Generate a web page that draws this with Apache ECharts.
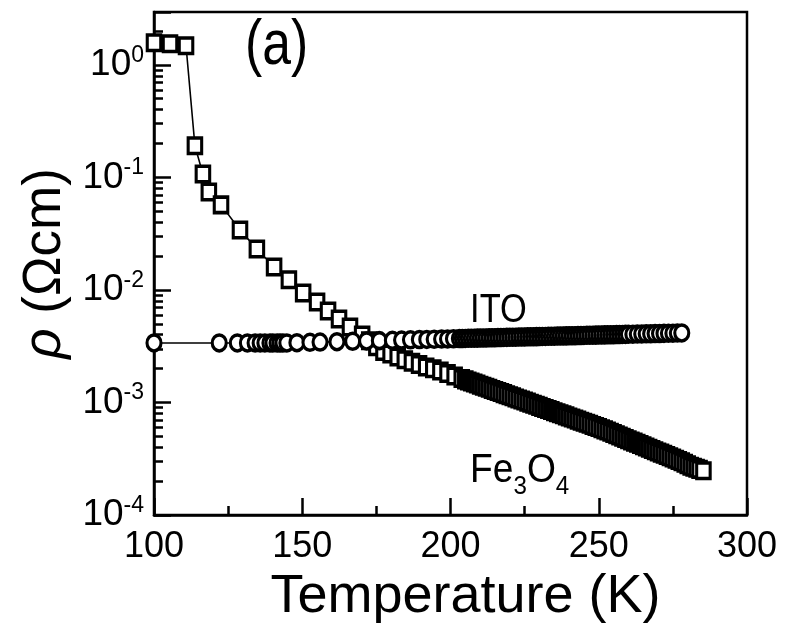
<!DOCTYPE html>
<html><head><meta charset="utf-8">
<script src="https://cdn.jsdelivr.net/npm/echarts@6/dist/echarts.min.js"></script>
<style>html,body{margin:0;padding:0;background:#fff}#c{width:785px;height:631px}</style>
</head><body><div id="c"></div>
<script>
// ---- data ----
const fe3o4T = [100.0,105.4,110.8,113.8,116.5,118.5,122.6,129.0,134.7,140.5,145.5,150.3,155.0,158.7,162.4,166.1,170.2,172.6,175.0,177.4,179.8,182.2,184.6,187.0,189.4,191.8,194.2,196.6,199.0,201.4,203.8,
205,206,207,208,209,210,211,212,213,214,215,216,217,218,219,220,221,222,223,224,225,226,227,228,229,230,231,232,233,234,235,236,237,238,239,240,241,242,243,244,245,246,247,248,249,250,
251,252,253,254,255,256,257,258,259,260,261,262,263,264,265,266,267,268,269,270,271,272,273,274,275,276,277,278,279,280,281,282,283,284,285.3];
const fe3o4Rho = [1.57,1.54,1.48,0.191,0.107,0.0743,0.0570,0.0341,0.0231,0.0160,0.0123,0.00940,0.00782,0.00650,0.00552,0.00469,0.00398,0.00354,0.00313,0.00284,0.00269,0.00253,0.00240,0.00228,0.00217,0.00207,0.00199,0.00190,0.00181,0.00172,0.00163,
1.588e-3,1.554e-3,1.521e-3,1.488e-3,1.456e-3,1.425e-3,1.394e-3,1.364e-3,1.335e-3,1.306e-3,1.278e-3,1.251e-3,1.224e-3,1.198e-3,1.172e-3,1.147e-3,1.122e-3,1.098e-3,1.075e-3,1.052e-3,1.029e-3,1.007e-3,9.855e-4,9.644e-4,9.437e-4,9.235e-4,9.037e-4,8.843e-4,8.654e-4,8.468e-4,8.287e-4,8.109e-4,7.935e-4,7.765e-4,7.599e-4,7.436e-4,7.277e-4,7.121e-4,6.968e-4,6.819e-4,6.673e-4,6.530e-4,6.390e-4,6.253e-4,6.119e-4,5.988e-4,
5.851e-4,5.707e-4,5.566e-4,5.428e-4,5.294e-4,5.163e-4,5.035e-4,4.911e-4,4.789e-4,4.671e-4,4.555e-4,4.443e-4,4.333e-4,4.226e-4,4.121e-4,4.019e-4,3.920e-4,3.823e-4,3.728e-4,3.636e-4,3.546e-4,3.459e-4,3.373e-4,3.290e-4,3.208e-4,3.129e-4,3.052e-4,2.967e-4,2.879e-4,2.793e-4,2.714e-4,2.656e-4,2.599e-4,2.543e-4,2.472e-4];

const itoT = [100,122,128.1,131.5,134.1,135.8,137.4,139.1,140.1,141.5,142.5,143.5,144.8,148.2,152.6,156.0,161.7,167.0,171.7,176.0,180.4,183.5,186.5,189.5,192.0,194.5,197.0,199.0,201.0,203.0,
204,205,206,207,208,209,210,211,212,213,214,215,216,217,218,219,220,221,222,223,224,225,226,227,228,229,230,231,232,233,234,235,236,237,238,239,240,241,242,243,244,245,246,247,248,249,250,251,252,253,254,255,256,257,258,259,260,
261.5,263,264.5,266,267.5,269,270.5,272,273.5,275,276.5,278];
const itoRho = [3.38e-3,3.38e-3,3.38e-3,3.38e-3,3.38e-3,3.38e-3,3.38e-3,3.38e-3,3.38e-3,3.38e-3,3.38e-3,3.38e-3,3.38e-3,
3.398e-3,3.421e-3,3.439e-3,3.469e-3,3.497e-3,3.521e-3,3.545e-3,3.569e-3,3.586e-3,3.602e-3,3.619e-3,3.633e-3,3.647e-3,3.661e-3,3.672e-3,3.683e-3,3.695e-3,
3.702e-3,3.708e-3,3.714e-3,3.719e-3,3.725e-3,3.731e-3,3.736e-3,3.742e-3,3.748e-3,3.754e-3,3.759e-3,3.765e-3,3.771e-3,3.777e-3,3.783e-3,3.788e-3,3.794e-3,3.800e-3,3.806e-3,3.812e-3,3.818e-3,3.823e-3,3.829e-3,3.835e-3,3.841e-3,3.847e-3,3.853e-3,3.859e-3,3.865e-3,3.871e-3,3.877e-3,3.883e-3,3.889e-3,3.895e-3,3.901e-3,3.907e-3,3.913e-3,3.919e-3,3.925e-3,3.931e-3,3.937e-3,3.943e-3,3.949e-3,3.955e-3,3.961e-3,3.967e-3,3.974e-3,3.980e-3,3.986e-3,3.992e-3,3.998e-3,4.004e-3,4.010e-3,4.017e-3,4.023e-3,4.029e-3,4.035e-3,
4.045e-3,4.054e-3,4.063e-3,4.073e-3,4.082e-3,4.092e-3,4.101e-3,4.111e-3,4.120e-3,4.130e-3,4.139e-3,4.149e-3];

// ticks
const xTickValues = [100,150,200,250,300];
const yMajorTicks = [1e-4,1e-3,1e-2,1e-1,1];
const yMinorTicks = [2e-4,3e-4,4e-4,5e-4,6e-4,7e-4,8e-4,9e-4,
  2e-3,3e-3,4e-3,5e-3,6e-3,7e-3,8e-3,9e-3,
  2e-2,3e-2,4e-2,5e-2,6e-2,7e-2,8e-2,9e-2,
  2e-1,3e-1,4e-1,5e-1,6e-1,7e-1,8e-1,9e-1, 2];
const X_MIN = 100, X_MAX = 300, Y_MIN = 1e-4, Y_MAX = 2.95;

// text anchors in data units [T, rho]
const panelLabelAt = [130.7, 1.445];
const itoLabelAt = [206.6, 6.5e-3];
const feLabelAt = [206.6, 2.46e-4];

const FONT = "'Liberation Sans', Arial, sans-serif";
const BLACK = '#000';
const chart = echarts.init(document.getElementById('c'));

function pairs(xs, ys){ return xs.map((x,i)=>[x, ys[i]]); }

const option = {
  animation: false,
  backgroundColor: '#fff',
  grid: { left:154, right:38, top:12, bottom:116, show:true, borderColor:BLACK, borderWidth:2.5,
          backgroundColor:'transparent', containLabel:false, outerBoundsMode:'none' },
  xAxis: {
    type:'value', min:X_MIN, max:X_MAX, interval:50,
    name:'Temperature (K)', nameLocation:'middle', nameGap:47,
    nameTextStyle:{ fontFamily:FONT, fontSize:54, color:BLACK, padding:[0,0,0,30] },
    axisLine:{ onZero:false, lineStyle:{ color:BLACK, width:2.5 } },
    axisTick:{ inside:true, length:17, lineStyle:{ color:BLACK, width:2.5 } },
    minorTick:{ show:true, splitNumber:2, length:9, lineStyle:{ color:BLACK, width:2.5 } },
    axisLabel:{ margin:14, fontFamily:FONT, fontSize:36, color:BLACK,
      formatter: v => xTickValues.indexOf(v) >= 0 ? String(v) : '' },
    splitLine:{ show:false }
  },
  yAxis: [{
    type:'log', logBase:10, min:Y_MIN, max:Y_MAX,
    name:'{i|ρ} (Ωcm)', nameLocation:'middle', nameGap:61, nameRotate:90,
    nameTextStyle:{ fontFamily:FONT, fontSize:53, color:BLACK,
      rich:{ i:{ fontFamily:FONT, fontSize:53, fontStyle:'italic', color:BLACK } } },
    axisLine:{ onZero:false, lineStyle:{ color:BLACK, width:2.5 } },
    axisTick:{ inside:true, length:17, lineStyle:{ color:BLACK, width:2.5 } },
    minorTick:{ show:false },
    splitLine:{ show:false },
    axisLabel:{ margin:10, color:BLACK,
      formatter: v => {
        const hit = yMajorTicks.find(t => Math.abs(Math.log10(v) - Math.log10(t)) < 1e-6);
        if (hit === undefined) return '';
        return '{b|10}{s|' + Math.round(Math.log10(hit)) + '}';
      },
      rich:{
        b:{ fontFamily:FONT, fontSize:37, lineHeight:42, color:BLACK },
        s:{ fontFamily:FONT, fontSize:23, lineHeight:23, verticalAlign:'top', color:BLACK }
      }
    }
  }, {
    type:'value', min:Math.log10(Y_MIN), max:Math.log10(Y_MAX), position:'left',
    axisLine:{ show:false, onZero:false }, axisLabel:{ show:false }, splitLine:{ show:false },
    axisTick:{ show:true, inside:true, length:9, customValues: yMinorTicks.map(v => Math.log10(v)),
      lineStyle:{ color:BLACK, width:2.5 } }
  }],
  series: [{
    name:'Fe3O4', type:'line', yAxisIndex:0, data:pairs(fe3o4T, fe3o4Rho),
    symbol:'rect', symbolSize:[13.5,15.5], showAllSymbol:true,
    itemStyle:{ color:'#fff', borderColor:BLACK, borderWidth:3.3 },
    lineStyle:{ color:BLACK, width:1.6 }, emphasis:{ disabled:true }, z:2
  }, {
    name:'ITO', type:'line', yAxisIndex:0, data:pairs(itoT, itoRho),
    symbol:'circle', symbolSize:[14,16], showAllSymbol:true,
    itemStyle:{ color:'#fff', borderColor:BLACK, borderWidth:3.3 },
    lineStyle:{ color:BLACK, width:1.6 }, emphasis:{ disabled:true }, z:3
  }]
};
chart.setOption(option);

const pA = chart.convertToPixel({gridIndex:0}, panelLabelAt);
const pI = chart.convertToPixel({gridIndex:0}, itoLabelAt);
const pF = chart.convertToPixel({gridIndex:0}, feLabelAt);
chart.setOption({ graphic: [
  { type:'text', x:pA[0], y:pA[1], scaleX:0.82, z:10, style:{ text:'(a)', fontFamily:FONT, fontSize:63, fill:BLACK, align:'left', verticalAlign:'middle' } },
  { type:'text', x:pI[0], y:pI[1], scaleX:0.86, z:10, style:{ text:'ITO', fontFamily:FONT, fontSize:40, fill:BLACK, align:'left', verticalAlign:'middle' } },
  { type:'text', x:pF[0], y:pF[1], scaleX:0.93, z:10, style:{ text:'{n|Fe}{s|3}{n|O}{s|4}', fill:BLACK, align:'left', verticalAlign:'middle',
      rich:{ n:{ fontFamily:FONT, fontSize:40, lineHeight:57, fill:BLACK }, s:{ fontFamily:FONT, fontSize:26, lineHeight:26, verticalAlign:'bottom', fill:BLACK } } } }
]});
</script></body></html>
